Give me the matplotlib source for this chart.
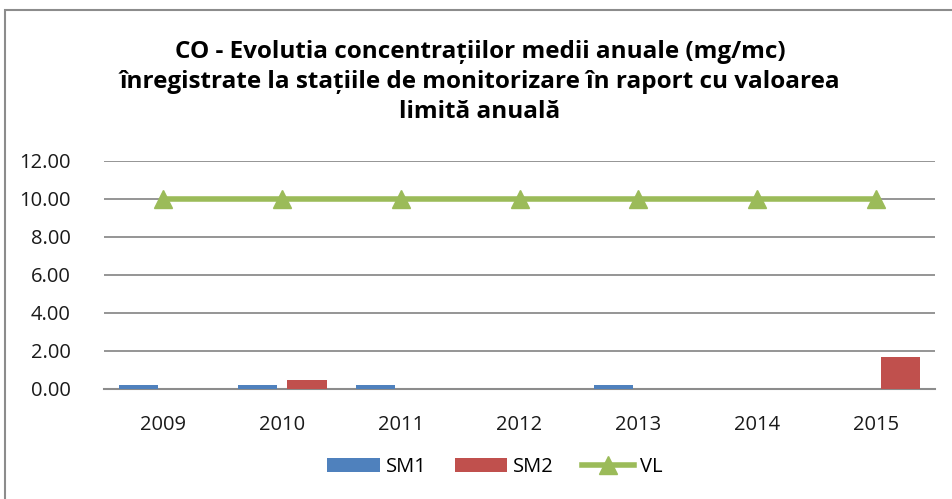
import matplotlib

matplotlib.use("Agg")
import matplotlib.pyplot as plt
import numpy as np
from matplotlib.patches import Rectangle

YEARS = ["2009", "2010", "2011", "2012", "2013", "2014", "2015"]
SM1 = [0.2, 0.2, 0.2, 0.0, 0.2, 0.0, 0.0]
SM2 = [0.0, 0.5, 0.0, 0.0, 0.0, 0.0, 1.7]
VL = [10, 10, 10, 10, 10, 10, 10]
TITLE = ("CO - Evolutia concentrațiilor medii anuale (mg/mc)\n"
         "înregistrate la stațiile de monitorizare în raport cu valoarea\n"
         "limită anuală")

plt.rcParams["font.family"] = ["Open Sans", "DejaVu Sans"]

W, H = 952, 499
fig = plt.figure(figsize=(W / 100, H / 100), dpi=100)
ax = fig.add_axes([104 / W, 1 - 389 / H, (935 - 104) / W, (389 - 161) / H])

x = np.arange(len(YEARS))
bw = 0.33
ax.bar(x - 0.21, SM1, bw, color="#4f81bd", label="SM1", zorder=3)
ax.bar(x + 0.21, SM2, bw, color="#c0504d", label="SM2", zorder=3)
ax.plot(x, VL, color="#9bbb59", lw=4, marker="^", ms=13, label="VL", zorder=4)

ax.set_xlim(-0.5, len(YEARS) - 0.5)
ax.set_ylim(0, 12)
ax.set_yticks(np.arange(0, 13, 2))
ax.set_yticklabels([f"{v:.2f}" for v in np.arange(0, 13, 2)])
ax.set_xticks(x)
ax.set_xticklabels(YEARS)
ax.tick_params(axis="both", length=0, labelsize=14.5, colors="#1a1a1a")
ax.tick_params(axis="x", pad=19)
ax.tick_params(axis="y", pad=24)
ax.yaxis.grid(True, color="#8c8c8c", lw=1.3, zorder=0)
for s in ("left", "right", "top"):
    ax.spines[s].set_visible(False)
ax.spines["bottom"].set_color("#8c8c8c")
ax.spines["bottom"].set_linewidth(1.5)

fig.text(480 / W, 1 - 82 / H, TITLE, ha="center", va="center",
         fontsize=17.5, fontweight="bold", linespacing=1.36)

handles, labels = ax.get_legend_handles_labels()
order = [labels.index(n) for n in ("SM1", "SM2", "VL")]
fig.legend([handles[i] for i in order], [labels[i] for i in order],
           loc="center", bbox_to_anchor=(495 / W, 1 - 467 / H), ncol=3,
           frameon=False, fontsize=14.5, handlelength=2.6, columnspacing=1.4,
           handletextpad=0.3)

fig.patches.append(Rectangle((5 / W, -0.1), 1.2, 1 - 10 / H + 0.1,
                             transform=fig.transFigure, fill=False,
                             edgecolor="#8c8c8c", lw=1.5))

fig.savefig("out.png", dpi=100)
